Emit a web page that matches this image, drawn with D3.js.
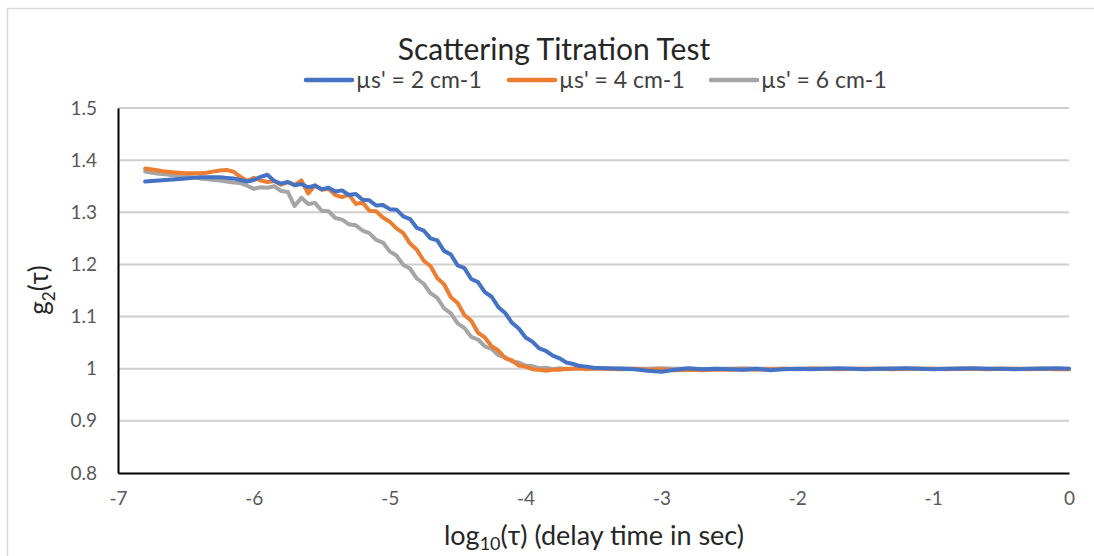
<!DOCTYPE html>
<html>
<head>
<meta charset="utf-8">
<script src="https://cdn.jsdelivr.net/npm/d3@7"></script>
<style>
  body { margin: 0; background: #fff; }
  text { font-family: Lato, "Open Sans", sans-serif; }
</style>
</head>
<body>
<svg id="chart" width="1094" height="556"></svg>
<script>
// log10(delay time) samples shared by all three series
var logTau = [
  -6.8, -6.75, -6.7, -6.65, -6.6, -6.55, -6.5, -6.45, -6.4, -6.35,
  -6.3, -6.25, -6.2, -6.15, -6.1, -6.05, -6.0, -5.95, -5.9, -5.85,
  -5.8, -5.75, -5.7, -5.65, -5.6, -5.55, -5.5, -5.45, -5.4, -5.35,
  -5.3, -5.25, -5.2, -5.15, -5.1, -5.05, -5.0, -4.95, -4.9, -4.85,
  -4.8, -4.75, -4.7, -4.65, -4.6, -4.55, -4.5, -4.45, -4.4, -4.35,
  -4.3, -4.25, -4.2, -4.15, -4.1, -4.05, -4.0, -3.95, -3.9, -3.85,
  -3.8, -3.75, -3.7, -3.65, -3.6, -3.55, -3.5,
  -3.4, -3.3, -3.2, -3.1, -3.0, -2.9, -2.8, -2.7, -2.6, -2.5,
  -2.4, -2.3, -2.2, -2.1, -2.0, -1.9, -1.8, -1.7, -1.6, -1.5,
  -1.4, -1.3, -1.2, -1.1, -1.0, -0.9, -0.8, -0.7, -0.6, -0.5,
  -0.4, -0.3, -0.2, -0.1, 0.0
];

var g2mus2 = [
  1.359, 1.360, 1.361, 1.362, 1.363, 1.364, 1.365, 1.366, 1.367, 1.367,
  1.367, 1.367, 1.366, 1.365, 1.362, 1.359, 1.362, 1.368, 1.372, 1.360,
  1.355, 1.358, 1.352, 1.354, 1.348, 1.351, 1.344, 1.347, 1.340, 1.342,
  1.333, 1.335, 1.324, 1.323, 1.313, 1.314, 1.306, 1.305, 1.292, 1.287,
  1.270, 1.265, 1.250, 1.246, 1.226, 1.219, 1.198, 1.193, 1.172, 1.166,
  1.147, 1.138, 1.118, 1.107, 1.088, 1.077, 1.060, 1.052, 1.039, 1.034,
  1.025, 1.020, 1.012, 1.009, 1.005, 1.004, 1.002,
  1.001, 1.000, 0.999, 0.996, 0.994, 0.998, 1.001, 0.999, 1.000, 0.999,
  0.998, 1.000, 0.997, 0.999, 1.000, 0.999, 1.000, 1.001, 1.000, 0.999,
  1.000, 1.000, 1.001, 1.000, 0.999, 1.000, 1.000, 1.001, 1.000, 1.000,
  0.999, 1.000, 1.000, 1.001, 1.000
];

var g2mus4 = [
  1.384, 1.382, 1.380, 1.378, 1.377, 1.376, 1.375, 1.375, 1.375, 1.376,
  1.378, 1.380, 1.381, 1.378, 1.368, 1.360, 1.366, 1.361, 1.358, 1.360,
  1.353, 1.358, 1.352, 1.361, 1.336, 1.352, 1.343, 1.345, 1.333, 1.329,
  1.334, 1.316, 1.319, 1.303, 1.302, 1.290, 1.282, 1.269, 1.260, 1.240,
  1.228, 1.207, 1.197, 1.174, 1.162, 1.137, 1.126, 1.103, 1.092, 1.069,
  1.060, 1.043, 1.035, 1.020, 1.016, 1.006, 1.004, 0.999, 0.998, 0.996,
  0.998, 0.998, 1.000, 1.000, 1.001, 0.999, 1.001,
  1.000, 0.999, 1.000, 0.998, 0.999, 0.997, 0.998, 0.997, 0.998, 0.998,
  0.999, 0.998, 0.999, 1.000, 0.999, 1.000, 1.000, 0.999, 1.000, 1.000,
  1.000, 0.999, 1.000, 1.000, 1.000, 0.999, 1.000, 1.000, 0.999, 1.000,
  1.000, 0.999, 1.000, 0.999, 0.999
];

var g2mus6 = [
  1.378, 1.376, 1.374, 1.373, 1.371, 1.370, 1.368, 1.367, 1.365, 1.364,
  1.362, 1.361, 1.359, 1.357, 1.356, 1.351, 1.345, 1.348, 1.347, 1.350,
  1.341, 1.339, 1.312, 1.328, 1.316, 1.318, 1.303, 1.302, 1.289, 1.286,
  1.277, 1.275, 1.265, 1.260, 1.247, 1.242, 1.225, 1.217, 1.199, 1.192,
  1.173, 1.163, 1.145, 1.136, 1.116, 1.106, 1.087, 1.078, 1.061, 1.056,
  1.043, 1.038, 1.026, 1.022, 1.014, 1.012, 1.006, 1.005, 1.001, 1.002,
  0.999, 1.001, 0.999, 1.000, 1.001, 1.000, 1.000,
  1.000, 1.001, 1.000, 1.000, 1.001, 1.000, 1.000, 0.999, 1.000, 1.000,
  1.001, 1.000, 1.000, 1.000, 1.000, 1.001, 1.000, 1.000, 1.000, 1.000,
  1.000, 1.001, 1.000, 1.000, 1.000, 1.000, 1.001, 1.000, 1.000, 1.000,
  1.000, 1.000, 1.001, 1.000, 1.000
];

var seriesNames = ["\u00b5s' = 2 cm-1", "\u00b5s' = 4 cm-1", "\u00b5s' = 6 cm-1"];
var seriesColors = ["#4472C4", "#ED7D31", "#A5A5A5"];
var xTicks = [-7, -6, -5, -4, -3, -2, -1, 0];
var yTicks = [0.8, 0.9, 1.0, 1.1, 1.2, 1.3, 1.4, 1.5];

var series = [g2mus2, g2mus4, g2mus6].map((vals, i) => ({
  name: seriesNames[i],
  color: seriesColors[i],
  points: vals.map((v, j) => [logTau[j], v])
}));

var svg = d3.select("#chart");

// chart frame (runs off the right / bottom edge like the original)
svg.append("rect")
  .attr("x", 7.5).attr("y", 8.5)
  .attr("width", 1110).attr("height", 570)
  .attr("fill", "#fff")
  .attr("stroke", "#d9d9d9")
  .attr("stroke-width", 1.5);

/*** Scales ***/
var xScale = d3.scaleLinear().domain([-7, 0]).range([118, 1069]);
var yScale = d3.scaleLinear().domain([0.8, 1.5]).range([473, 108]);

/*** Gridlines ***/
svg.append("g")
  .selectAll("line")
  .data(yTicks.slice(1))
  .join("line")
  .attr("x1", xScale(-7)).attr("x2", xScale(0))
  .attr("y1", d => yScale(d)).attr("y2", d => yScale(d))
  .attr("stroke", "#cfcfcf")
  .attr("stroke-width", 2);

/*** Axes ***/
var yAxis = d3.axisLeft(yScale)
  .tickValues(yTicks)
  .tickSize(0)
  .tickPadding(21)
  .tickFormat(d3.format("~g"));

svg.append("g")
  .attr("transform", `translate(${xScale(-7)},0)`)
  .call(yAxis)
  .call(g => g.select(".domain").attr("stroke", "#000").attr("stroke-width", 2))
  .call(g => g.selectAll("text")
    .attr("fill", "#595959")
    .style("font-size", "19px"));

var xAxis = d3.axisBottom(xScale)
  .tickValues(xTicks)
  .tickSize(0)
  .tickPadding(19)
  .tickFormat(d => String(d));

svg.append("g")
  .attr("transform", `translate(0,${yScale(0.8)})`)
  .call(xAxis)
  .call(g => g.select(".domain").attr("stroke", "#000").attr("stroke-width", 2))
  .call(g => g.selectAll("text")
    .attr("fill", "#595959")
    .style("font-size", "19px"));

/*** Lines ***/
var line = d3.line()
  .x(d => xScale(d[0]))
  .y(d => yScale(d[1]));

svg.append("g")
  .selectAll("path")
  .data(series.slice().reverse())
  .join("path")
  .attr("d", d => line(d.points))
  .attr("fill", "none")
  .attr("stroke", d => d.color)
  .attr("stroke-width", 4)
  .attr("stroke-linejoin", "round")
  .attr("stroke-linecap", "round");

/*** Title ***/
svg.append("text")
  .attr("x", 554).attr("y", 60)
  .attr("text-anchor", "middle")
  .attr("fill", "#262626")
  .style("font-size", "30px")
  .text("Scattering Titration Test");

/*** Legend ***/
var legendX = [306, 509, 711];
var legend = svg.append("g")
  .selectAll("g")
  .data(series)
  .join("g")
  .attr("transform", (d, i) => `translate(${legendX[i]},80)`);

legend.append("line")
  .attr("x1", 0).attr("x2", 46)
  .attr("stroke", d => d.color)
  .attr("stroke-width", 4.5)
  .attr("stroke-linecap", "round");

legend.append("text")
  .attr("x", 50).attr("y", 8)
  .attr("fill", "#404040")
  .style("font-size", "23px")
  .text(d => d.name);

/*** Axis titles ***/
var xTitle = svg.append("text")
  .attr("x", 594).attr("y", 545)
  .attr("text-anchor", "middle")
  .attr("fill", "#262626")
  .style("font-size", "27px");
xTitle.append("tspan").text("log");
xTitle.append("tspan").attr("dy", 5).style("font-size", "18px").text("10");
xTitle.append("tspan").attr("dy", -5).text("(\u03c4) (delay time in sec)");

var yTitle = svg.append("text")
  .attr("transform", "translate(48,290) rotate(-90)")
  .attr("text-anchor", "middle")
  .attr("fill", "#262626")
  .style("font-size", "26px");
yTitle.append("tspan").text("g");
yTitle.append("tspan").attr("dy", 7).style("font-size", "17px").text("2");
yTitle.append("tspan").attr("dy", -7).text("(\u03c4)");
</script>
</body>
</html>
